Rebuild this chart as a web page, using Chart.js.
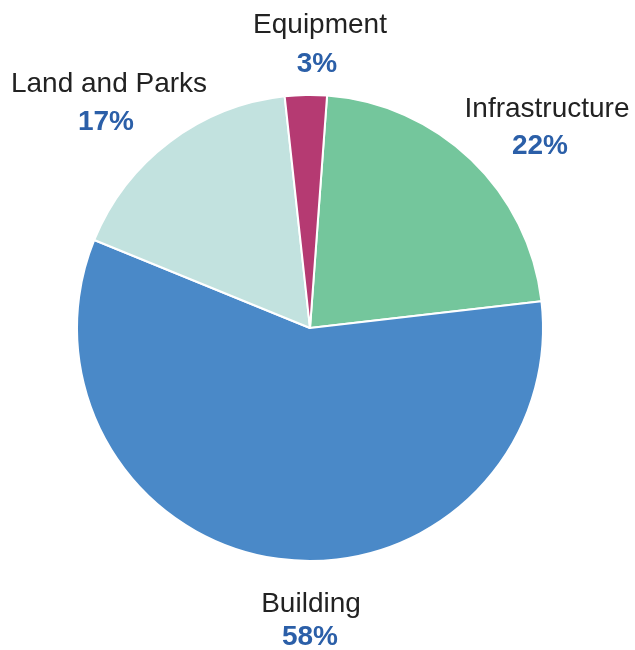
<!DOCTYPE html>
<html>
<head>
<meta charset="utf-8">
<script src="https://cdn.jsdelivr.net/npm/chart.js@4"></script>
<style>
html,body{margin:0;padding:0;background:#fff;}
#wrap{width:635px;height:650px;}
</style>
</head>
<body>
<div id="wrap"><canvas id="c" width="635" height="650"></canvas></div>
<script>
// Data
const categories = ["Infrastructure", "Building", "Land and Parks", "Equipment"];
const values = [22.0, 58.0, 17.1, 2.9];
const colors = ["#74c69c", "#4a89c8", "#c2e2df", "#b53a72"];

// Label layout (name x, name baseline, pct x, pct baseline) — layout only
const labelLayout = [
  [547, 117, 540, 154],
  [311, 612, 310, 645],
  [109, 92, 106, 130],
  [320, 33, 317, 72]
];

const total = values.reduce((a, b) => a + b, 0);

const labelPlugin = {
  id: 'outLabels',
  afterDraw(chart) {
    const ctx = chart.ctx;
    ctx.save();
    ctx.textAlign = 'center';
    ctx.textBaseline = 'alphabetic';
    categories.forEach((name, i) => {
      const [nx, ny, px, py] = labelLayout[i];
      ctx.font = '28px "Liberation Sans", Arial, sans-serif';
      ctx.fillStyle = '#222222';
      ctx.fillText(name, nx, ny);
      ctx.font = 'bold 28px "Liberation Sans", Arial, sans-serif';
      ctx.fillStyle = '#2b5fa8';
      ctx.fillText(Math.round(values[i] / total * 100) + '%', px, py);
    });
    ctx.restore();
  }
};

new Chart(document.getElementById('c'), {
  type: 'pie',
  data: {
    labels: categories,
    datasets: [{
      data: values,
      backgroundColor: colors,
      borderColor: '#ffffff',
      borderWidth: 2,
      hoverOffset: 0
    }]
  },
  options: {
    responsive: false,
    animation: false,
    rotation: 4.2,
    radius: 233,
    layout: { padding: { left: 0, right: 15, top: 6, bottom: 0 } },
    plugins: {
      legend: { display: false },
      tooltip: { enabled: false }
    }
  },
  plugins: [labelPlugin]
});
</script>
</body>
</html>
